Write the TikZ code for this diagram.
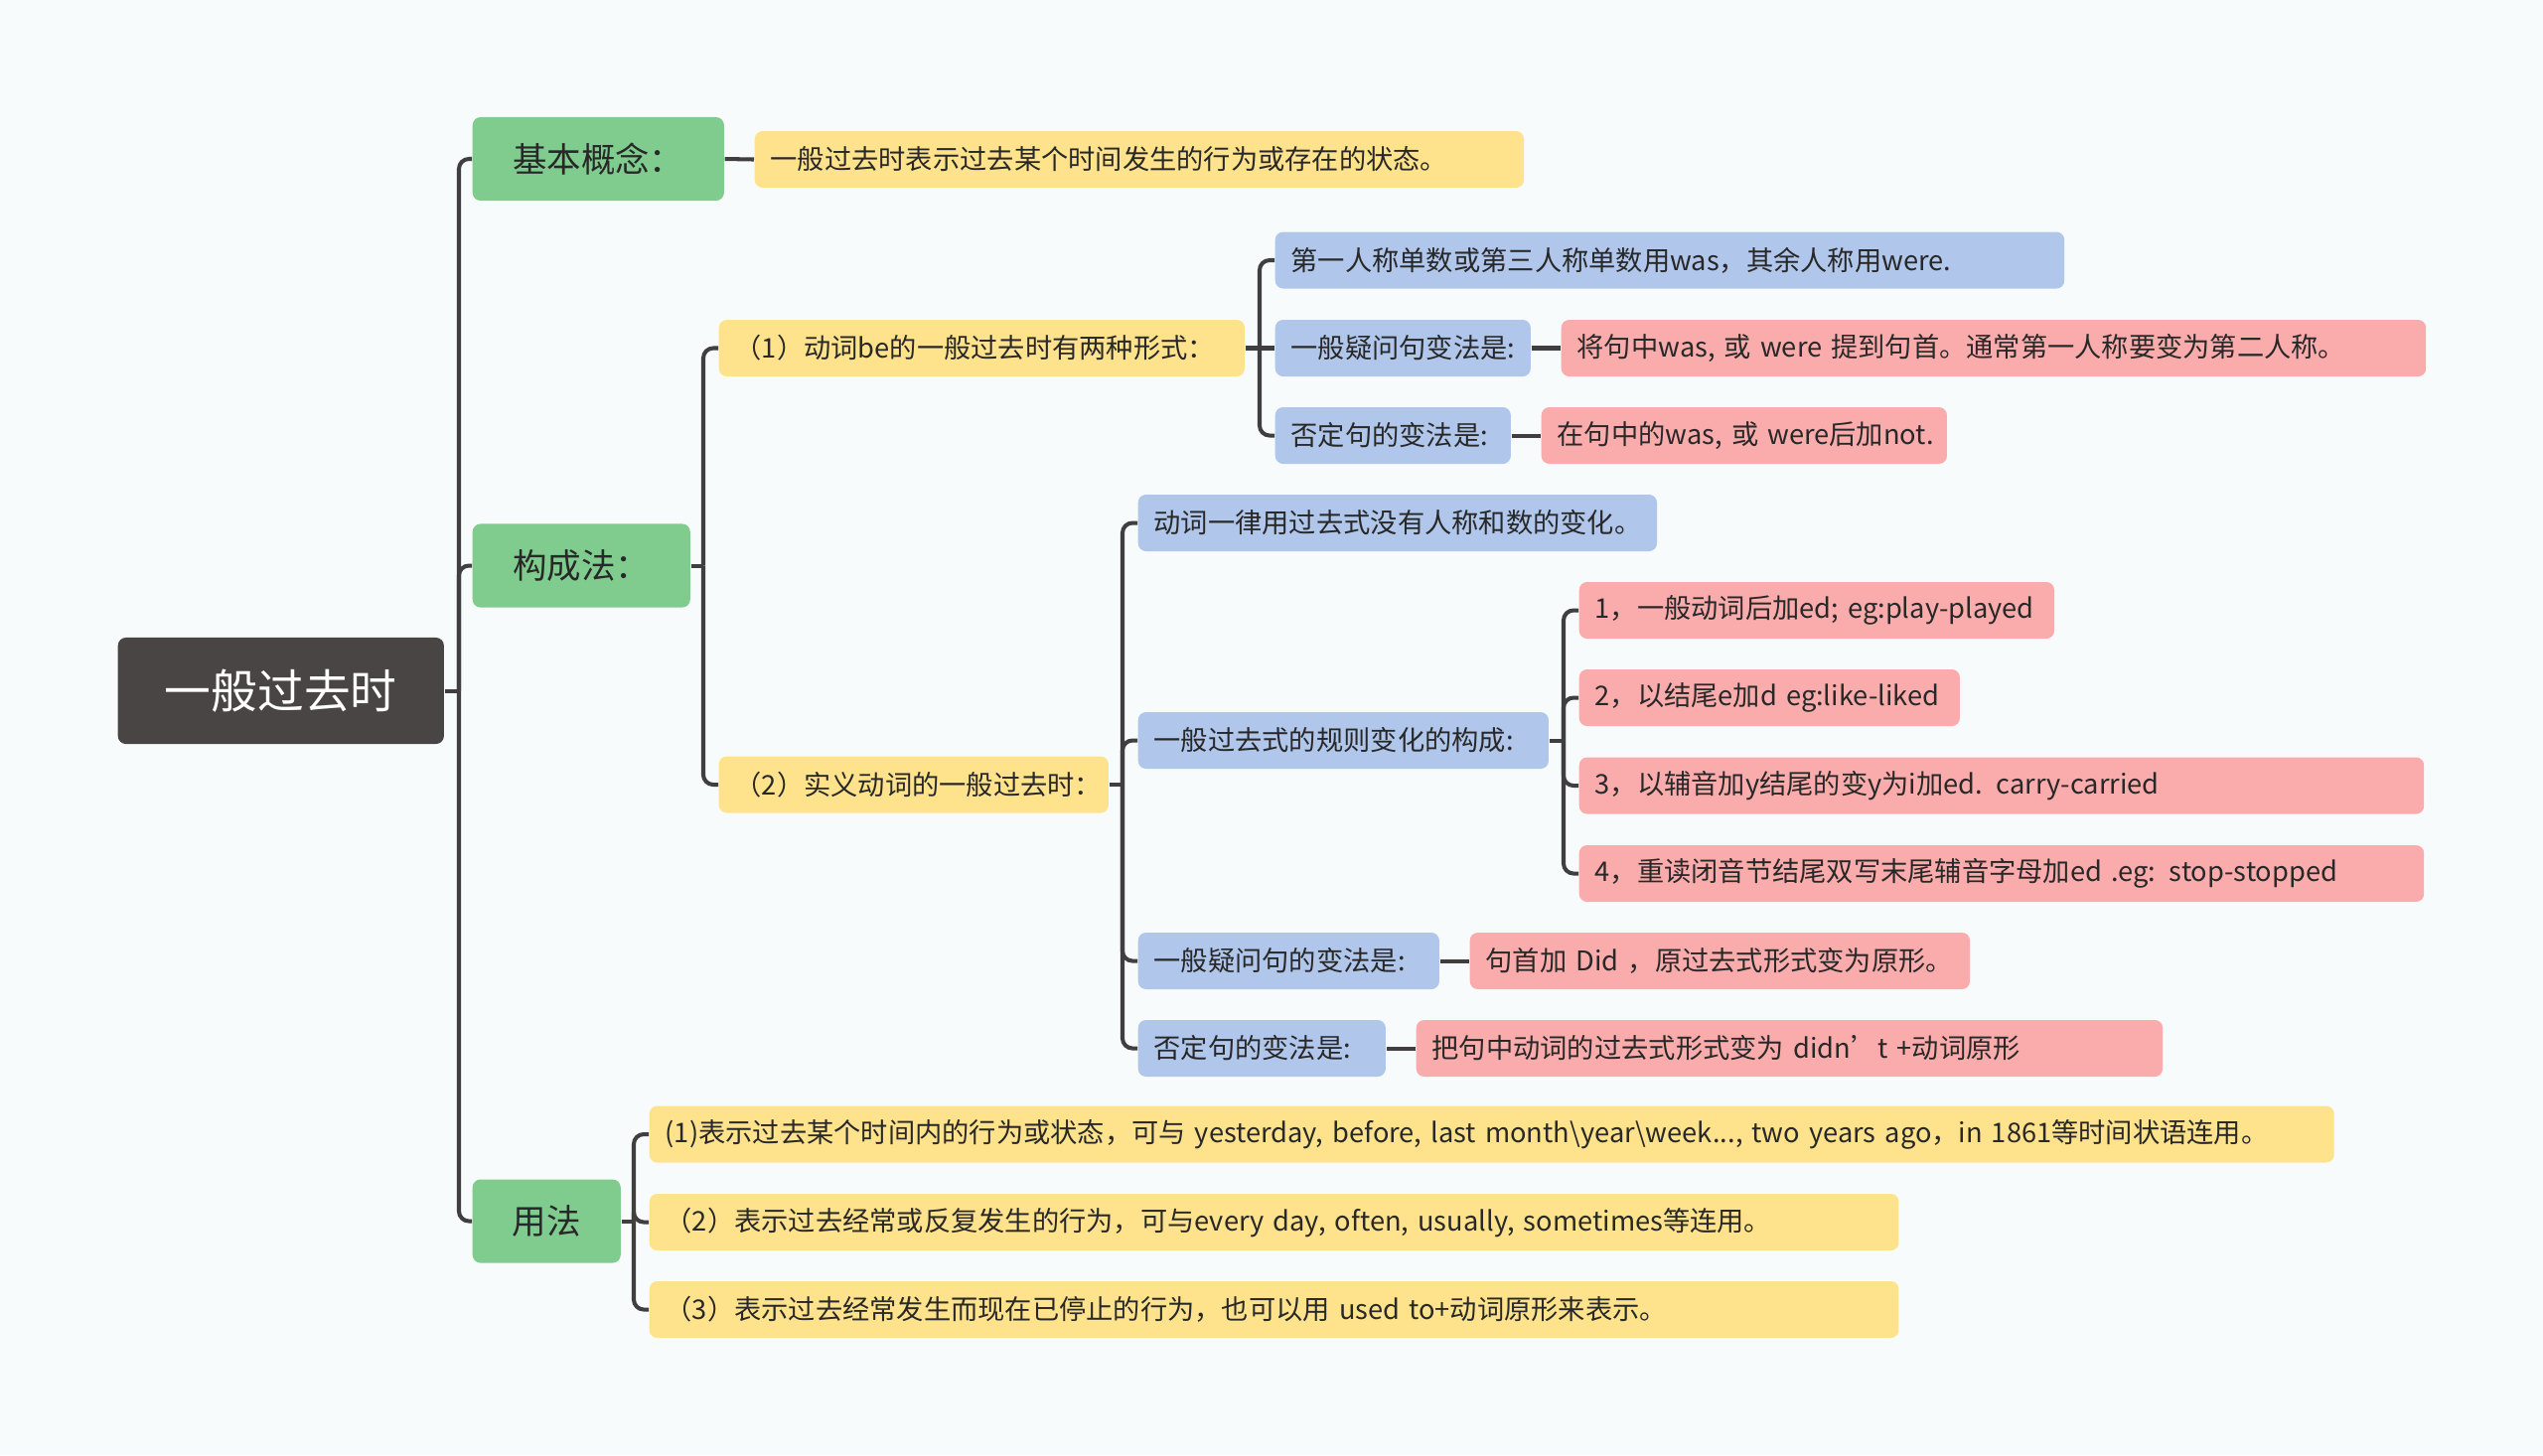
\documentclass[tikz,border=0pt]{standalone}
\usepackage{fontspec}
\setmainfont{Noto Sans CJK SC}
\usepackage{tikz}
\usetikzlibrary{calc}
\definecolor{bgc}{RGB}{247,251,252}
\definecolor{rootc}{RGB}{74,69,69}
\definecolor{grn}{RGB}{128,204,142}
\definecolor{yel}{RGB}{254,227,140}
\definecolor{blu}{RGB}{176,198,234}
\definecolor{pnk}{RGB}{250,172,172}
\definecolor{lnk}{RGB}{64,62,62}
\definecolor{txt}{RGB}{40,40,40}

\begin{document}
\begin{tikzpicture}[x=0.01cm,y=-0.01cm,
  box/.style={rounded corners=0.08cm,inner xsep=0.16cm,inner ysep=0pt,minimum height=0.57cm,anchor=west,align=left,text=txt,font=\fontsize{7.75}{9}\selectfont},
  ybox/.style={box,fill=yel},
  bbox/.style={box,fill=blu},
  pbox/.style={box,fill=pnk},
  gbox/.style={rounded corners=0.08cm,inner sep=0pt,minimum height=0.84cm,anchor=west,fill=grn,text=txt,font=\fontsize{9.8}{11}\selectfont},
  link/.style={draw=lnk,line width=1.15pt,rounded corners=0.1cm}]
\fill[bgc] (0,0) rectangle (2560,1465);
\useasboundingbox (0,0) rectangle (2560,1465);

\node[rounded corners=0.08cm,inner sep=0pt,minimum width=3.28cm,minimum height=1.07cm,anchor=west,fill=rootc,text=white,font=\fontsize{13.3}{15}\selectfont] (root) at (118,695.5) {一般过去时};

\node[gbox,minimum width=2.53cm] (basic) at (475,160) {基本概念：};
\node[gbox,minimum width=2.19cm] (struct) at (475,569.5) {构成法：};
\node[gbox,minimum width=1.49cm] (usage) at (475,1229.5) {用法};

\node[ybox,text width=7.42cm] (def) at (759,160.5) {一般过去时表示过去某个时间发生的行为或存在的状态。};

\node[ybox,text width=4.97cm] (be) at (723,350.5) {\mbox{（1）动词be的一般过去时有两种形式：}};
\node[ybox,text width=3.60cm] (real) at (723,790) {\mbox{（2）实义动词的一般过去时：}};

\node[bbox,text width=7.62cm] (first) at (1283,262) {第一人称单数或第三人称单数用was，其余人称用were.};
\node[bbox,text width=2.25cm] (qa) at (1283,350.5) {\mbox{一般疑问句变法是:}};
\node[pbox,text width=8.38cm] (qaans) at (1571,350.5) {将句中was, 或 were 提到句首。通常第一人称要变为第二人称。};
\node[bbox,text width=2.05cm] (na) at (1283,438.5) {\mbox{否定句的变法是:}};
\node[pbox,text width=3.76cm] (naans) at (1551,438.5) {\mbox{在句中的was, 或 were后加not.}};

\node[bbox,text width=4.90cm] (same) at (1145,526.5) {动词一律用过去式没有人称和数的变化。};
\node[bbox,text width=3.81cm] (rule) at (1145,745.5) {\mbox{一般过去式的规则变化的构成:}};
\node[pbox,text width=4.46cm] (ruleA) at (1589,614.5) {\mbox{1，一般动词后加ed; eg:play-played}};
\node[pbox,text width=3.51cm] (ruleB) at (1589,702.5) {\mbox{2，以结尾e加d eg:like-liked}};
\node[pbox,text width=8.18cm] (ruleC) at (1589,791) {3，以辅音加y结尾的变y为i加ed. carry-carried};
\node[pbox,text width=8.18cm] (ruleD) at (1589,879.5) {4，重读闭音节结尾双写末尾辅音字母加ed .eg: stop-stopped};
\node[bbox,text width=2.71cm] (qb) at (1145,967.5) {\mbox{一般疑问句的变法是:}};
\node[pbox,text width=4.71cm] (qbans) at (1479,967.5) {\mbox{句首加 Did ，原过去式形式变为原形。}};
\node[bbox,text width=2.17cm] (nb) at (1145,1055.5) {\mbox{否定句的变法是:}};
\node[pbox,text width=7.19cm] (nbans) at (1425,1055.5) {把句中动词的过去式形式变为 didn’t +动词原形};

\node[ybox,text width=16.63cm] (useA) at (653,1142) {\mbox{(1)表示过去某个时间内的行为或状态，可与 yesterday, before, last month\textbackslash year\textbackslash week..., two years ago，in 1861等时间状语连用。}};
\node[ybox,text width=12.25cm] (useB) at (653,1230.5) {（2）表示过去经常或反复发生的行为，可与every day, often, usually, sometimes等连用。};
\node[ybox,text width=12.25cm] (useC) at (653,1318.5) {（3）表示过去经常发生而现在已停止的行为，也可以用 used to+动词原形来表示。};

\coordinate (jroot) at (462,695.5);
\coordinate (jstruct) at (708,569.5);
\coordinate (jbe) at (1268,350.5);
\coordinate (jreal) at (1130,790);
\coordinate (jrule) at (1574,745.5);
\coordinate (jusage) at (638,1229.5);

\draw[link] (root.east) -- (jroot);
\draw[link] (jroot) |- (basic.west);
\draw[link] (jroot) |- (struct.west);
\draw[link] (jroot) |- (usage.west);

\draw[link] (basic.east) -- (def.west);

\draw[link] (struct.east) -- (jstruct);
\draw[link] (jstruct) |- (be.west);
\draw[link] (jstruct) |- (real.west);

\draw[link] (be.east) -- (jbe);
\draw[link] (jbe) |- (first.west);
\draw[link] (jbe) -- (qa.west);
\draw[link] (jbe) |- (na.west);
\draw[link] (qa.east) -- (qaans.west);
\draw[link] (na.east) -- (naans.west);

\draw[link] (real.east) -- (jreal);
\draw[link] (jreal) |- (same.west);
\draw[link] (jreal) |- (rule.west);
\draw[link] (jreal) |- (qb.west);
\draw[link] (jreal) |- (nb.west);

\draw[link] (rule.east) -- (jrule);
\draw[link] (jrule) |- (ruleA.west);
\draw[link] (jrule) |- (ruleB.west);
\draw[link] (jrule) |- (ruleC.west);
\draw[link] (jrule) |- (ruleD.west);
\draw[link] (qb.east) -- (qbans.west);
\draw[link] (nb.east) -- (nbans.west);

\draw[link] (usage.east) -- (jusage);
\draw[link] (jusage) |- (useA.west);
\draw[link] (jusage) |- (useB.west);
\draw[link] (jusage) |- (useC.west);
\end{tikzpicture}
\end{document}
